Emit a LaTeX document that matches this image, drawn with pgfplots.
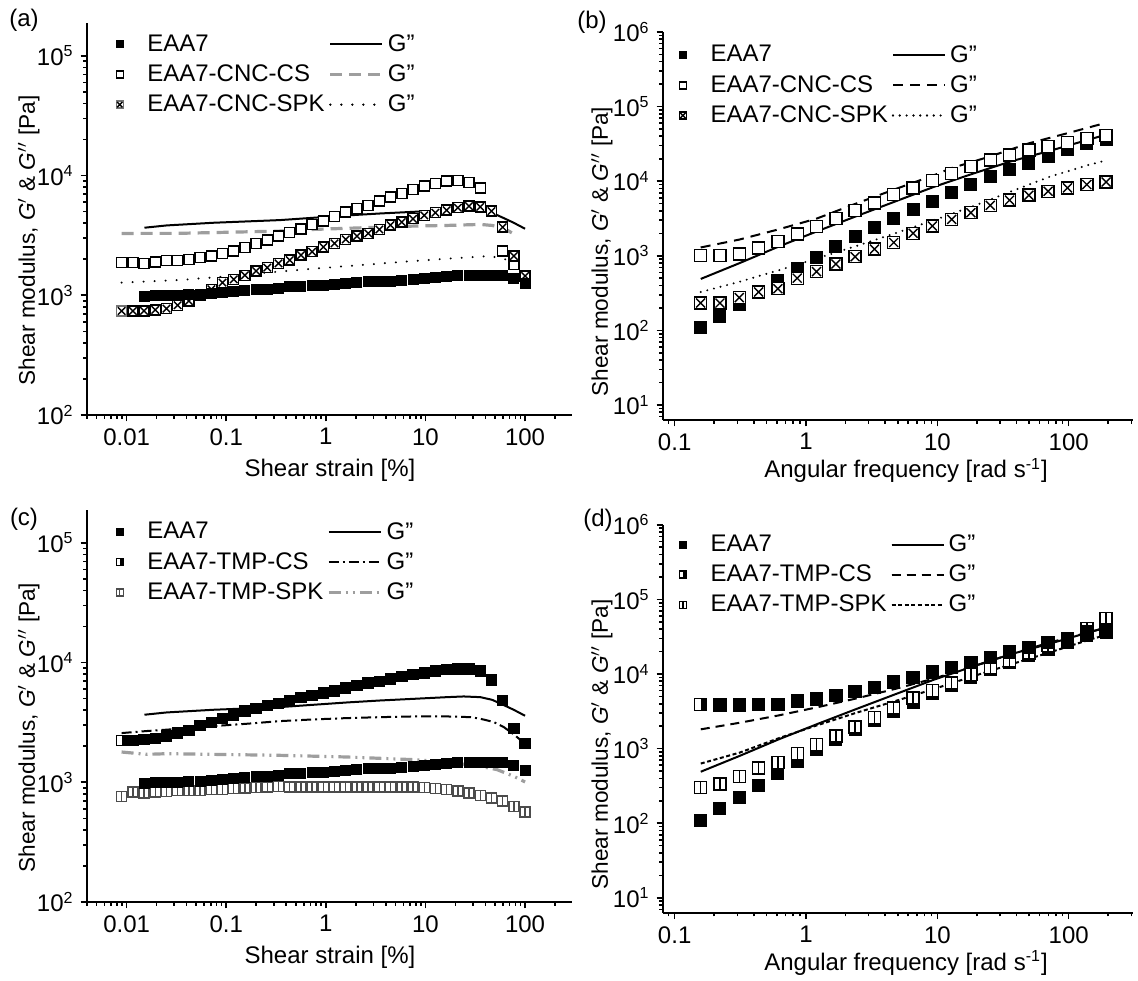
\documentclass[border=0pt]{standalone}
\usepackage{fontspec}
\setmainfont{Liberation Sans}
\usepackage{pgfplots}
\pgfplotsset{compat=1.18}
\usepackage{pgfplotstable}
\newcommand{\myfs}{\fontsize{12}{14}\selectfont}
\newcommand{\myyfs}{\fontsize{11.3}{13.5}\selectfont}

\pgfdeclareplotmark{sqx}{%
  \pgfpathrectangle{\pgfqpoint{-\pgfplotmarksize}{-\pgfplotmarksize}}{\pgfqpoint{2\pgfplotmarksize}{2\pgfplotmarksize}}%
  \pgfusepathqfillstroke
  \pgfsetstrokecolor{black}%
  \pgfpathmoveto{\pgfqpoint{-0.75\pgfplotmarksize}{-0.75\pgfplotmarksize}}%
  \pgfpathlineto{\pgfqpoint{0.75\pgfplotmarksize}{0.75\pgfplotmarksize}}%
  \pgfpathmoveto{\pgfqpoint{-0.75\pgfplotmarksize}{0.75\pgfplotmarksize}}%
  \pgfpathlineto{\pgfqpoint{0.75\pgfplotmarksize}{-0.75\pgfplotmarksize}}%
  \pgfusepathqstroke}
\pgfdeclareplotmark{sqv}{%
  \pgfpathrectangle{\pgfqpoint{-\pgfplotmarksize}{-\pgfplotmarksize}}{\pgfqpoint{2\pgfplotmarksize}{2\pgfplotmarksize}}%
  \pgfusepathqfillstroke
  \pgfpathmoveto{\pgfqpoint{0pt}{-\pgfplotmarksize}}%
  \pgfpathlineto{\pgfqpoint{0pt}{\pgfplotmarksize}}%
  \pgfusepathqstroke}
\pgfdeclareplotmark{sqh}{%
  \pgfpathrectangle{\pgfqpoint{-\pgfplotmarksize}{-\pgfplotmarksize}}{\pgfqpoint{2\pgfplotmarksize}{2\pgfplotmarksize}}%
  \pgfusepathqfill
  \pgfsetfillcolor{black}%
  \pgfpathrectangle{\pgfqpoint{0pt}{-\pgfplotmarksize}}{\pgfqpoint{\pgfplotmarksize}{2\pgfplotmarksize}}%
  \pgfusepathqfill
  \pgfpathrectangle{\pgfqpoint{-\pgfplotmarksize}{-\pgfplotmarksize}}{\pgfqpoint{2\pgfplotmarksize}{2\pgfplotmarksize}}%
  \pgfusepathqstroke}

% ---------- strain sweep data ----------
\pgfplotstableread{
x y
0.01496 975
0.01939 987
0.02512 987
0.03255 1000
0.04217 1019
0.05464 1019
0.07079 1039
0.09173 1052
0.1189 1066
0.1540 1086
0.1995 1107
0.2585 1122
0.3350 1137
0.4340 1181
0.5623 1173
0.7286 1211
0.9441 1211
1.223 1227
1.585 1250
2.054 1276
2.661 1292
3.447 1300
4.467 1309
5.788 1334
7.499 1359
9.716 1386
12.59 1404
16.31 1431
21.13 1450
27.38 1450
35.48 1450
45.97 1468
59.57 1468
77.18 1377
100 1259
}\tabAeaa
\pgfplotstableread{
x y
0.00891 1870
0.01155 1870
0.01496 1850
0.01939 1900
0.02512 1945
0.03255 1960
0.04217 2000
0.05464 2060
0.07079 2130
0.09173 2240
0.1189 2340
0.1540 2500
0.1995 2700
0.2585 2890
0.3350 3120
0.4340 3330
0.5623 3590
0.7286 3910
0.9441 4160
1.223 4530
1.585 4950
2.054 5310
2.661 5620
3.447 6110
4.467 6640
5.788 7080
7.499 7640
9.716 8150
12.59 8580
16.31 8970
21.13 9080
27.38 8790
35.48 7890
59.57 2340
77.18 1810
}\tabAcs
\pgfplotstableread{
x y
0.00891 740
0.01155 740
0.01496 740
0.01939 755
0.02512 775
0.03255 826
0.04217 897
0.05464 1000
0.07079 1122
0.09173 1276
0.1189 1359
0.1540 1468
0.1995 1595
0.2585 1702
0.3350 1848
0.4340 1968
0.5623 2166
0.7286 2312
0.9441 2528
1.223 2712
1.585 2929
2.054 3122
2.661 3286
3.447 3548
4.467 3853
5.788 4084
7.499 4355
9.716 4642
12.59 4887
16.31 5140
21.13 5380
27.38 5550
35.48 5480
45.97 5040
59.57 3706
77.18 2127
100 1450
}\tabAspk
\pgfplotstableread{
x y
0.0151 3666
0.0252 3831
0.0743 4033
0.348 4246
0.752 4440
1.63 4642
3.52 4822
7.6 4977
16.4 5140
24.2 5210
35.6 5140
46.6 4887
60.1 4440
76.9 4033
100 3594
}\tabAeaaL
\pgfplotstableread{
x y
0.0089 3286
0.033 3290
0.348 3436
0.752 3548
7.6 3784
16.4 3831
35.6 3906
46.6 3831
60.1 3666
77 3250
}\tabAcsL
\pgfplotstableread{
x y
0.0089 1276
0.0344 1342
0.0937 1431
0.255 1545
0.752 1668
2.05 1778
5.58 1896
16.4 2022
44.8 2127
63.4 1995
77 1754
}\tabAspkL
\pgfplotstableread{
x y
0.00891 2239
0.01155 2239
0.01496 2281
0.01939 2312
0.02512 2432
0.03255 2576
0.04217 2712
0.05464 2985
0.07079 3143
0.09173 3393
0.1189 3615
0.1540 3928
0.1995 4110
0.2585 4385
0.3350 4529
0.4340 4761
0.5623 5079
0.7286 5309
0.9441 5550
1.223 5768
1.585 6110
2.054 6430
2.661 6725
3.447 6982
4.467 7305
5.788 7691
7.499 7943
9.716 8150
12.59 8472
16.31 8750
21.13 8856
27.38 8856
35.48 8472
45.97 7170
59.57 4822
77.18 2801
100 2100
}\tabCcs
\pgfplotstableread{
x y
0.00891 764
0.01155 830
0.01496 815
0.01939 830
0.02512 841
0.03255 853
0.04217 858
0.05464 858
0.07079 869
0.09173 875
0.1189 886
0.1540 897
0.1995 903
0.2585 915
0.3350 926
0.4340 915
0.5623 915
0.7286 915
0.9441 915
1.223 915
1.585 915
2.054 915
2.661 915
3.447 915
4.467 915
5.788 915
7.499 915
9.716 903
12.59 886
16.31 869
21.13 847
27.38 815
35.48 779
45.97 740
59.57 695
77.18 631
100 566
}\tabCspk
\pgfplotstableread{
x y
0.0089 2576
0.0159 2679
0.0344 2801
0.0743 2946
0.161 3082
0.348 3243
0.752 3350
1.63 3436
3.52 3500
7.6 3548
16.4 3548
28.2 3500
35.6 3393
48.4 3184
61.1 2893
77 2512
100 2100
}\tabCcsL
\pgfplotstableread{
x y
0.0089 1790
0.0159 1711
0.0252 1733
0.0743 1711
0.348 1679
1.63 1626
7.6 1545
16.4 1477
35.6 1359
52.3 1276
77 1122
100 1006
}\tabCspkL

% ---------- frequency sweep data ----------
\pgfplotstableread{
x y
0.1578 109
0.2213 156
0.3105 222
0.4355 325
0.6109 470
0.8570 671
1.202 961
1.687 1334
2.366 1814
3.319 2415
4.656 3184
6.531 4198
9.162 5410
12.85 7100
18.03 9000
25.29 11400
35.48 14300
49.77 17500
69.82 21600
97.95 26300
137.4 32500
192.8 36500
}\tabFeaa
\pgfplotstableread{
x y
0.1578 1003
0.2213 1003
0.3105 1057
0.4355 1270
0.6109 1556
0.8570 1950
1.202 2460
1.687 3142
2.366 4064
3.319 5130
4.656 6640
6.531 8130
9.162 10190
12.85 12620
18.03 15780
25.29 19360
35.48 22590
49.77 26300
69.82 29100
97.95 32900
137.4 37550
192.8 40760
}\tabBcs
\pgfplotstableread{
x y
0.1578 233
0.2213 233
0.3105 275
0.4355 327
0.6109 362
0.8570 501
1.202 615
1.687 778
2.366 973
3.319 1231
4.656 1508
6.531 2009
9.162 2512
12.85 3081
18.03 3776
25.29 4730
35.48 5570
49.77 6500
69.82 7340
97.95 8130
137.4 9016
192.8 9750
}\tabBspk
\pgfplotstableread{
x y
0.158 490
0.313 800
0.619 1330
1.23 2150
2.41 3390
4.75 5330
9.42 8400
18.6 12600
36.5 18500
71.8 25500
141 36000
193 42000
}\tabFeaaL
\pgfplotstableread{
x y
0.1578 1294
0.3105 1650
0.6109 2250
1.202 3150
2.366 4960
4.656 7700
9.162 11800
12.85 15000
25.29 21500
49.77 32200
97.95 44000
192.8 60700
}\tabBcsL
\pgfplotstableread{
x y
0.158 327
0.313 450
0.619 640
1.23 930
2.41 1350
4.75 2000
9.42 3000
18.6 4600
36.5 7300
71.8 11500
141 16500
193 19000
}\tabBspkL
\pgfplotstableread{
x y
0.1578 3908
0.2213 3828
0.3105 3828
0.4355 3908
0.6109 3908
0.8570 4325
1.202 4645
1.687 5150
2.366 5880
3.319 6650
4.656 7820
6.531 9030
9.162 10630
12.85 12280
18.03 14320
25.29 16700
35.48 19640
49.77 22700
69.82 26500
97.95 30200
137.4 37100
192.8 39100
}\tabDcs
\pgfplotstableread{
x y
0.1578 302
0.2213 335
0.3105 420
0.4355 548
0.6109 651
0.8570 858
1.202 1145
1.687 1477
2.366 1946
3.319 2590
4.656 3521
6.531 4790
9.162 6010
12.85 7590
18.03 9820
25.29 12280
35.48 15230
49.77 19050
69.82 24140
97.95 29300
137.4 41000
192.8 55800
}\tabDspk
\pgfplotstableread{
x y
0.158 1814
0.313 2222
0.619 2787
1.23 3597
2.41 4700
4.75 6300
9.42 8700
18.6 12600
36.5 18500
71.8 26500
141 36000
193 42000
}\tabDcsL
\pgfplotstableread{
x y
0.158 631
0.313 885
0.619 1377
1.23 2070
2.41 3020
4.75 4325
9.42 6300
18.6 9300
36.5 13500
71.8 19500
141 28500
193 33500
}\tabDspkL

\begin{document}
\begin{tikzpicture}
\path[use as bounding box] (0,0) rectangle (569pt,490pt);

% ================= (a) =================
\begin{axis}[anchor=south west, at={(43.5pt,282.5pt)},
  scale only axis, width=242.5pt, height=196pt,
  xmode=log, ymode=log,
  xmin=0.004, xmax=296, ymin=100, ymax=1.88e5,
  axis x line*=bottom, axis y line*=left,
  axis line style={line width=0.9pt},
  tick style={black, line width=0.8pt},
  tick align=outside, major tick length=3.2pt, minor tick length=1.8pt,
  tick label style={font=\myfs}, label style={font=\myfs},
  xtick={0.01,0.1,1,10,100}, xticklabels={0.01,0.1,1,10,100},
  minor xtick={0.004,0.005,0.006,0.007,0.008,0.009,0.02,0.03,0.04,0.05,0.06,0.07,0.08,0.09,0.2,0.3,0.4,0.5,0.6,0.7,0.8,0.9,2,3,4,5,6,7,8,9,20,30,40,50,60,70,80,90,200},
  ytick={100,1000,10000,100000},
  yticklabels={10\textsuperscript{2},10\textsuperscript{3},10\textsuperscript{4},10\textsuperscript{5}},
  minor ytick={200,300,400,500,600,700,800,900,2000,3000,4000,5000,6000,7000,8000,9000,20000,30000,40000,50000,60000,70000,80000,90000},
  xlabel={Shear strain [\%]},
  ylabel={Shear modulus, \textit{G}$'$ \& \textit{G}$''$ [Pa]},
  xlabel style={at={(axis description cs:0.501,-0.14)}, anchor=center},
  ylabel style={at={(axis description cs:-0.12,0.445)}, anchor=center, font=\myyfs},
  legend style={draw=none, fill=none, font=\myfs, at={(axis description cs:0.008,0.982)}, anchor=north west, inner sep=0pt, row sep=1.2pt},
  legend cell align=left, legend columns=2,
  legend image code/.code={\draw[mark repeat=2,mark phase=2,#1] plot coordinates {(0cm,0cm) (0.5cm,0cm) (0.915cm,0cm)}; \path (0cm,0cm) -- (0.915cm,0cm);},
  legend image post style={mark size=1.75pt}]
\addplot[only marks, draw=none, mark=square*, mark size=2.5pt, mark options={fill=black, draw=black, line width=0.5pt}] table {\tabAeaa};
\addlegendentry{EAA7}
\addplot[no markers, black, line width=1pt] table {\tabAeaaL};
\addlegendentry{G"}
\addplot[only marks, draw=none, mark=square*, mark size=2.5pt, mark options={fill=white, draw=black, line width=0.7pt}] table {\tabAcs};
\addlegendentry{EAA7-CNC-CS}
\addplot[no markers, color=black!38, line width=1.6pt, dash pattern=on 6pt off 3.5pt] table {\tabAcsL};
\addlegendentry{G"}
\addplot[only marks, draw=none, mark=sqx, mark size=2.5pt, mark options={fill=white, draw=black!55, line width=0.7pt}] table {\tabAspk};
\addlegendentry{EAA7-CNC-SPK}
\addplot[no markers, black, line width=1.1pt, line cap=round, dash pattern=on 0pt off 5.5pt] table {\tabAspkL};
\addlegendentry{G"}
\addplot[only marks, mark=square*, mark size=2.5pt, mark options={fill=white, draw=black, line width=0.7pt}, forget plot] table {\tabAcs};
\addplot[only marks, mark=sqx, mark size=2.5pt, mark options={fill=white, draw=black!55, line width=0.7pt}, forget plot] table {\tabAspk};
\addplot[only marks, mark=square*, mark size=2.5pt, mark options={fill=black, draw=black, line width=0.5pt}, forget plot] table {\tabAeaa};
\end{axis}

% ================= (b) =================
\begin{axis}[anchor=south west, at={(331.5pt,280pt)},
  scale only axis, width=235pt, height=194pt,
  xmode=log, ymode=log,
  xmin=0.0815, xmax=309, ymin=6.3, ymax=1e6,
  axis x line*=bottom, axis y line*=left,
  axis line style={line width=0.9pt},
  tick style={black, line width=0.8pt},
  tick align=outside, major tick length=3.2pt, minor tick length=1.8pt,
  tick label style={font=\myfs}, label style={font=\myfs},
  xtick={0.1,1,10,100}, xticklabels={0.1,1,10,100},
  minor xtick={0.09,0.2,0.3,0.4,0.5,0.6,0.7,0.8,0.9,2,3,4,5,6,7,8,9,20,30,40,50,60,70,80,90,200,300},
  ytick={10,100,1000,10000,100000,1000000},
  yticklabels={10\textsuperscript{1},10\textsuperscript{2},10\textsuperscript{3},10\textsuperscript{4},10\textsuperscript{5},10\textsuperscript{6}},
  minor ytick={7,8,9,20,30,40,50,60,70,80,90,200,300,400,500,600,700,800,900,2000,3000,4000,5000,6000,7000,8000,9000,20000,30000,40000,50000,60000,70000,80000,90000,200000,300000,400000,500000,600000,700000,800000,900000},
  xlabel={Angular frequency [rad s\textsuperscript{-1}]},
  ylabel={Shear modulus, \textit{G}$'$ \& \textit{G}$''$ [Pa]},
  xlabel style={at={(axis description cs:0.517,-0.13)}, anchor=center},
  ylabel style={at={(axis description cs:-0.13,0.434)}, anchor=center, font=\myyfs},
  legend style={draw=none, fill=none, font=\myfs, at={(axis description cs:-0.019,0.977)}, anchor=north west, inner sep=0pt, row sep=1.2pt},
  legend cell align=left, legend columns=2,
  legend image code/.code={\draw[mark repeat=2,mark phase=2,#1] plot coordinates {(0cm,0cm) (0.5cm,0cm) (0.915cm,0cm)}; \path (0cm,0cm) -- (0.915cm,0cm);},
  legend image post style={mark size=1.75pt}]
\addplot[only marks, draw=none, mark=square*, mark size=3pt, mark options={fill=black, draw=black, line width=0.5pt}] table {\tabFeaa};
\addlegendentry{EAA7}
\addplot[no markers, black, line width=1pt] table {\tabFeaaL};
\addlegendentry{G"}
\addplot[only marks, draw=none, mark=square*, mark size=3pt, mark options={fill=white, draw=black, line width=0.7pt}] table {\tabBcs};
\addlegendentry{EAA7-CNC-CS}
\addplot[no markers, black, line width=1pt, dash pattern=on 5pt off 3.5pt] table {\tabBcsL};
\addlegendentry{G"}
\addplot[only marks, draw=none, mark=sqx, mark size=3pt, mark options={fill=white, draw=black, line width=0.7pt}] table {\tabBspk};
\addlegendentry{EAA7-CNC-SPK}
\addplot[no markers, black, line width=1.1pt, line cap=round, dash pattern=on 0pt off 3.4pt] table {\tabBspkL};
\addlegendentry{G"}
\addplot[only marks, mark=square*, mark size=3pt, mark options={fill=black, draw=black, line width=0.5pt}, forget plot] table {\tabFeaa};
\addplot[only marks, mark=square*, mark size=3pt, mark options={fill=white, draw=black, line width=0.7pt}, forget plot] table {\tabBcs};
\addplot[only marks, mark=sqx, mark size=3pt, mark options={fill=white, draw=black, line width=0.7pt}, forget plot] table {\tabBspk};
\end{axis}

% ================= (c) =================
\begin{axis}[anchor=south west, at={(43.5pt,39pt)},
  scale only axis, width=242.5pt, height=196pt,
  xmode=log, ymode=log,
  xmin=0.004, xmax=296, ymin=100, ymax=1.88e5,
  axis x line*=bottom, axis y line*=left,
  axis line style={line width=0.9pt},
  tick style={black, line width=0.8pt},
  tick align=outside, major tick length=3.2pt, minor tick length=1.8pt,
  tick label style={font=\myfs}, label style={font=\myfs},
  xtick={0.01,0.1,1,10,100}, xticklabels={0.01,0.1,1,10,100},
  minor xtick={0.004,0.005,0.006,0.007,0.008,0.009,0.02,0.03,0.04,0.05,0.06,0.07,0.08,0.09,0.2,0.3,0.4,0.5,0.6,0.7,0.8,0.9,2,3,4,5,6,7,8,9,20,30,40,50,60,70,80,90,200},
  ytick={100,1000,10000,100000},
  yticklabels={10\textsuperscript{2},10\textsuperscript{3},10\textsuperscript{4},10\textsuperscript{5}},
  minor ytick={200,300,400,500,600,700,800,900,2000,3000,4000,5000,6000,7000,8000,9000,20000,30000,40000,50000,60000,70000,80000,90000},
  xlabel={Shear strain [\%]},
  ylabel={Shear modulus, \textit{G}$'$ \& \textit{G}$''$ [Pa]},
  xlabel style={at={(axis description cs:0.501,-0.14)}, anchor=center},
  ylabel style={at={(axis description cs:-0.12,0.445)}, anchor=center, font=\myyfs},
  legend style={draw=none, fill=none, font=\myfs, at={(axis description cs:0.008,0.98)}, anchor=north west, inner sep=0pt, row sep=1.2pt},
  legend cell align=left, legend columns=2,
  legend image code/.code={\draw[mark repeat=2,mark phase=2,#1] plot coordinates {(0cm,0cm) (0.5cm,0cm) (0.915cm,0cm)}; \path (0cm,0cm) -- (0.915cm,0cm);},
  legend image post style={mark size=1.75pt}]
\addplot[only marks, draw=none, mark=square*, mark size=2.5pt, mark options={fill=black, draw=black, line width=0.5pt}] table {\tabAeaa};
\addlegendentry{EAA7}
\addplot[no markers, black, line width=1pt] table {\tabAeaaL};
\addlegendentry{G"}
\addplot[only marks, draw=none, mark=sqh, mark size=2.5pt, mark options={fill=white, draw=black, line width=0.7pt}] table {\tabCcs};
\addlegendentry{EAA7-TMP-CS}
\addplot[no markers, black, line width=1pt, dash pattern=on 5pt off 2pt on 1pt off 2pt] table {\tabCcsL};
\addlegendentry{G"}
\addplot[only marks, draw=none, mark=sqv, mark size=2.5pt, mark options={fill=white, draw=black!70, line width=0.7pt}] table {\tabCspk};
\addlegendentry{EAA7-TMP-SPK}
\addplot[no markers, color=black!38, line width=1.6pt, dash pattern=on 6pt off 2.5pt on 1pt off 2.5pt on 1pt off 2.5pt] table {\tabCspkL};
\addlegendentry{G"}
\addplot[only marks, mark=sqv, mark size=2.5pt, mark options={fill=white, draw=black!70, line width=0.7pt}, forget plot] table {\tabCspk};
\addplot[only marks, mark=sqh, mark size=2.5pt, mark options={fill=white, draw=black, line width=0.7pt}, forget plot] table {\tabCcs};
\addplot[only marks, mark=square*, mark size=2.5pt, mark options={fill=black, draw=black, line width=0.5pt}, forget plot] table {\tabAeaa};
\end{axis}

% ================= (d) =================
\begin{axis}[anchor=south west, at={(331.5pt,33.6pt)},
  scale only axis, width=235pt, height=194pt,
  xmode=log, ymode=log,
  xmin=0.0815, xmax=309, ymin=6.3, ymax=1e6,
  axis x line*=bottom, axis y line*=left,
  axis line style={line width=0.9pt},
  tick style={black, line width=0.8pt},
  tick align=outside, major tick length=3.2pt, minor tick length=1.8pt,
  tick label style={font=\myfs}, label style={font=\myfs},
  xtick={0.1,1,10,100}, xticklabels={0.1,1,10,100},
  minor xtick={0.09,0.2,0.3,0.4,0.5,0.6,0.7,0.8,0.9,2,3,4,5,6,7,8,9,20,30,40,50,60,70,80,90,200,300},
  ytick={10,100,1000,10000,100000,1000000},
  yticklabels={10\textsuperscript{1},10\textsuperscript{2},10\textsuperscript{3},10\textsuperscript{4},10\textsuperscript{5},10\textsuperscript{6}},
  minor ytick={7,8,9,20,30,40,50,60,70,80,90,200,300,400,500,600,700,800,900,2000,3000,4000,5000,6000,7000,8000,9000,20000,30000,40000,50000,60000,70000,80000,90000,200000,300000,400000,500000,600000,700000,800000,900000},
  xlabel={Angular frequency [rad s\textsuperscript{-1}]},
  ylabel={Shear modulus, \textit{G}$'$ \& \textit{G}$''$ [Pa]},
  xlabel style={at={(axis description cs:0.517,-0.13)}, anchor=center},
  ylabel style={at={(axis description cs:-0.13,0.434)}, anchor=center, font=\myyfs},
  legend style={draw=none, fill=none, font=\myfs, at={(axis description cs:-0.019,0.986)}, anchor=north west, inner sep=0pt, row sep=1.2pt},
  legend cell align=left, legend columns=2,
  legend image code/.code={\draw[mark repeat=2,mark phase=2,#1] plot coordinates {(0cm,0cm) (0.5cm,0cm) (0.915cm,0cm)}; \path (0cm,0cm) -- (0.915cm,0cm);},
  legend image post style={mark size=1.75pt}]
\addplot[only marks, draw=none, mark=square*, mark size=3pt, mark options={fill=black, draw=black, line width=0.5pt}] table {\tabFeaa};
\addlegendentry{EAA7}
\addplot[no markers, black, line width=1pt] table {\tabFeaaL};
\addlegendentry{G"}
\addplot[only marks, draw=none, mark=sqh, mark size=3pt, mark options={fill=white, draw=black, line width=0.7pt}] table {\tabDcs};
\addlegendentry{EAA7-TMP-CS}
\addplot[no markers, black, line width=1pt, dash pattern=on 4.5pt off 3pt] table {\tabDcsL};
\addlegendentry{G"}
\addplot[only marks, draw=none, mark=sqv, mark size=3pt, mark options={fill=white, draw=black, line width=0.7pt}] table {\tabDspk};
\addlegendentry{EAA7-TMP-SPK}
\addplot[no markers, black, line width=1pt, dash pattern=on 2pt off 1.3pt] table {\tabDspkL};
\addlegendentry{G"}
\addplot[only marks, mark=square*, mark size=3pt, mark options={fill=black, draw=black, line width=0.5pt}, forget plot] table {\tabFeaa};
\addplot[only marks, mark=sqv, mark size=3pt, mark options={fill=white, draw=black, line width=0.7pt}, forget plot] table {\tabDspk};
\addplot[only marks, mark=sqh, mark size=3pt, mark options={fill=white, draw=black, line width=0.7pt}, forget plot] table {\tabDcs};
\end{axis}

\node[font=\myfs] at (12pt,480pt) {(a)};
\node[font=\myfs] at (296pt,479pt) {(b)};
\node[font=\myfs] at (12pt,230.5pt) {(c)};
\node[font=\myfs] at (299pt,230pt) {(d)};
\end{tikzpicture}
\end{document}
